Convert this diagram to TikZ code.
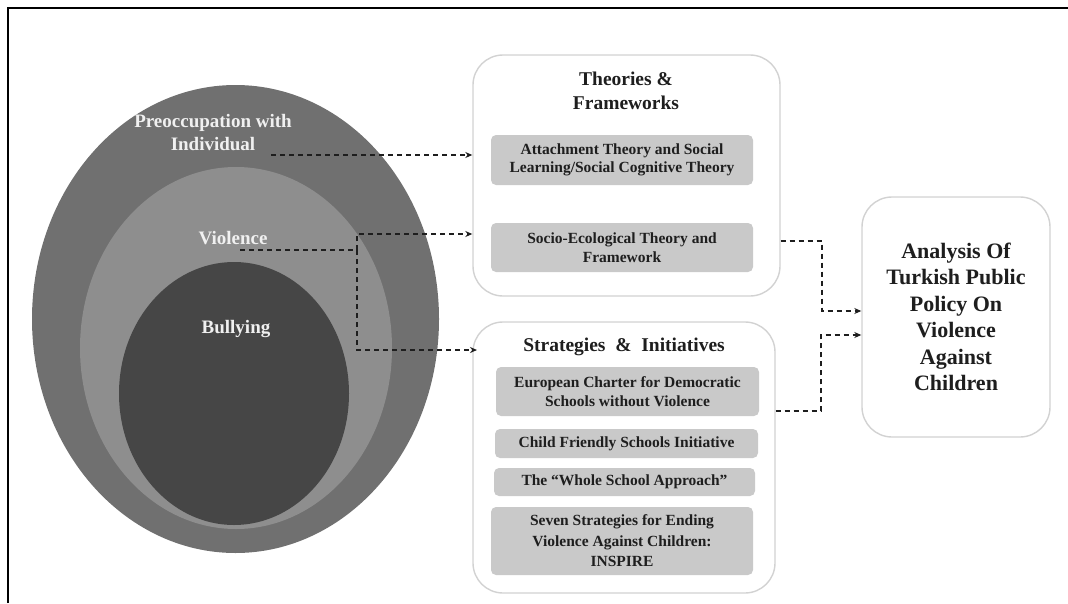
\documentclass[tikz,border=0pt]{standalone}
\usepackage{fontspec}
\setmainfont{Liberation Serif}
\usetikzlibrary{shapes.geometric,arrows.meta}
\definecolor{ringout}{HTML}{707070}
\definecolor{ringmid}{HTML}{8E8E8E}
\definecolor{ringin}{HTML}{464646}
\definecolor{itemfill}{HTML}{C9C9C9}
\definecolor{panelline}{HTML}{D2D2D2}
\definecolor{inktext}{HTML}{1E1E1E}
\definecolor{ringtext}{HTML}{F0F0F0}
\tikzset{
  ring/.style={ellipse, draw=none, inner sep=0pt},
  ringlabel/.style={text=ringtext, font=\bfseries\fontsize{19}{23}\selectfont, align=center, inner sep=0pt},
  panel/.style={rectangle, draw=panelline, line width=1.4pt, rounded corners=30pt, fill=white, inner sep=0pt},
  paneltitle/.style={text=inktext, font=\bfseries\fontsize{19.5}{24}\selectfont, align=center, inner sep=0pt},
  item/.style={rectangle, fill=itemfill, rounded corners=5pt, text=inktext, font=\bfseries\fontsize{15.5}{18.5}\selectfont, align=center, inner sep=0pt},
  conn/.style={draw=inktext, line width=1.4pt, dash pattern=on 5pt off 4pt},
  tip/.style={-{Stealth[length=7pt,width=6pt]}},
}
\begin{document}
\begin{tikzpicture}[x=1pt,y=-1pt]
\useasboundingbox (0,0) rectangle (1068,603);
% frame
\draw[line width=2pt] (8,603) -- (8,8) -- (1068,8);

% rings
\node[ring, fill=ringout, minimum width=407pt, minimum height=468pt] (outer) at (235.5,319) {};
\node[ring, fill=ringmid, minimum width=312pt, minimum height=362pt] (mid) at (236,348) {};
\node[ring, fill=ringin, minimum width=230pt, minimum height=263pt] (inner) at (234,393.5) {};
\node[ringlabel] (indiv) at (213,133) {Preoccupation with\\Individual};
\node[ringlabel] (viol) at (233,238) {Violence};
\node[ringlabel] (bully) at (236,329) {Bullying};

% theories panel
\node[panel, minimum width=307pt, minimum height=241pt] (theo) at (626.5,175.5) {};
\node[paneltitle] (theotitle) at (626,91) {Theories \&\\Frameworks};
\node[item, minimum width=262pt, minimum height=50pt] (attach) at (622,160) {Attachment Theory and Social\\Learning/Social Cognitive Theory};
\node[item, minimum width=262pt, minimum height=49pt] (socio) at (622,247.5) {Socio-Ecological Theory and\\Framework};

% strategies panel
\node[panel, minimum width=302pt, minimum height=271pt] (strat) at (624,457.5) {};
\node[paneltitle] (strattitle) at (624,347) {Strategies \ \& \ Initiatives};
\node[item, minimum width=263pt, minimum height=49pt] (euro) at (627.5,391.5) {European Charter for Democratic\\Schools without Violence};
\node[item, minimum width=263pt, minimum height=29pt] (child) at (626.5,443.5) {Child Friendly Schools Initiative};
\node[item, minimum width=261pt, minimum height=28pt] (whole) at (624.5,482) {The “Whole School Approach”};
\node[item, minimum width=262pt, minimum height=68pt, font=\bfseries\fontsize{15.5}{20.5}\selectfont] (seven) at (622,541) {Seven Strategies for Ending\\Violence Against Children:\\INSPIRE};

% analysis panel
\node[panel, minimum width=188pt, minimum height=240pt, text=inktext, font=\bfseries\fontsize{22}{26.5}\selectfont, align=center] (ana) at (956,317) {Analysis Of\\Turkish Public\\Policy On\\Violence\\Against\\Children};

% connector points
\coordinate (indivend) at (271,155);
\coordinate (violstart) at (240,250);
\coordinate (vj) at (357,250);
\coordinate (vtop) at (357,234);
\coordinate (vbot) at (477,350);
\coordinate (tj) at (822,241);
\coordinate (ta) at (862,311);
\coordinate (sj) at (821,411);
\coordinate (sa) at (862,335);

% connectors
\draw[conn, tip] (indivend) -- (indivend -| theo.west);
\draw[conn, tip] (violstart) -- (vj) |- (vtop -| theo.west);
\draw[conn, tip] (vj) |- (vbot);
\draw[conn, tip] (tj -| theo.east) -- (tj) |- (ta -| ana.west);
\draw[conn, tip] (sj -| strat.east) -- (sj) |- (sa -| ana.west);
\end{tikzpicture}
\end{document}
